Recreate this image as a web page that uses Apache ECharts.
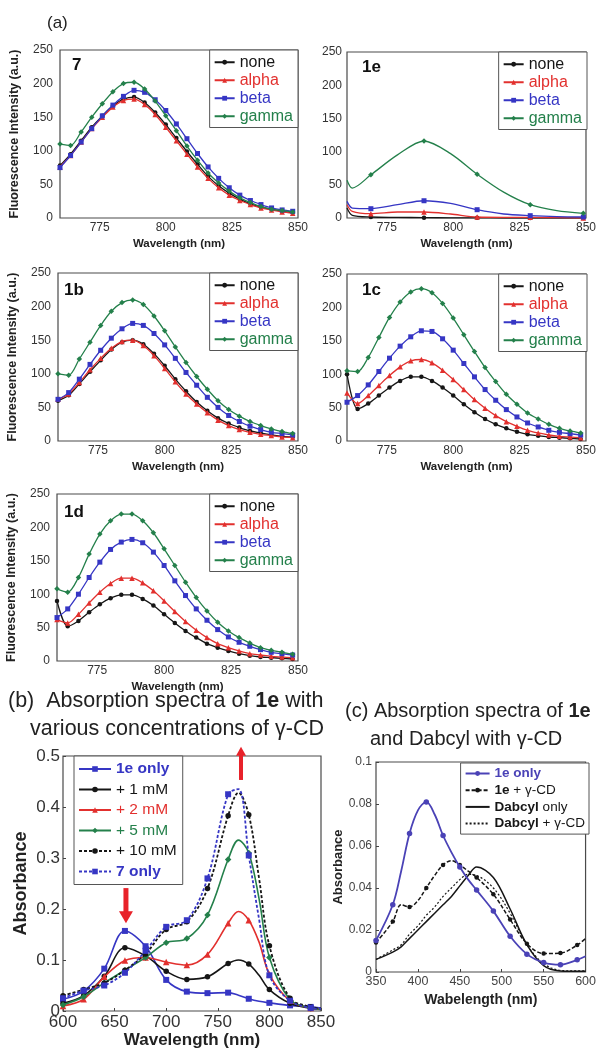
<!DOCTYPE html>
<html>
<head>
<meta charset="utf-8">
<style>
    body { margin: 0; background: #fff; }
    #page { position: relative; width: 599px; height: 1054px; }
    .pane { position: absolute; left: 0; top: 0; width: 599px; height: 1054px; }
</style>
</head>
<body>
<div id="page">
    <div class="pane" id="a7"></div>
    <div class="pane" id="a1e"></div>
    <div class="pane" id="a1b"></div>
    <div class="pane" id="a1c"></div>
    <div class="pane" id="a1d"></div>
    <div class="pane" id="pb"></div>
    <div class="pane" id="pc"></div>
</div>
<script src="https://cdn.jsdelivr.net/npm/echarts/dist/echarts.min.js"></script>
<script>
var FONT = '"Liberation Sans", Arial, sans-serif';
var INK = '#222';

// ---------- (a) fluorescence spectra ----------
var wlA = [760, 764, 768, 772, 776, 780, 784, 788, 792, 796, 800, 804, 808, 812, 816, 820, 824, 828, 832, 836, 840, 844, 848];
var wlTicks = [775, 800, 825, 850];
var cdNames = ['none', 'alpha', 'beta', 'gamma'];

var p7None  = [78, 95, 115, 135, 152, 167, 177, 180, 172, 157, 139, 119, 99, 80, 62, 48, 37, 28, 21, 16, 13, 10, 8];
var p7Alpha = [76, 93, 113, 133, 150, 165, 175, 177, 169, 154, 135, 115, 95, 76, 59, 45, 34, 26, 20, 15, 12, 9, 7];
var p7Beta  = [75, 93, 113, 133, 152, 168, 181, 190, 187, 176, 160, 140, 118, 96, 76, 59, 45, 34, 26, 20, 15, 12, 10];
var p7Gamma = [110, 108, 128, 150, 170, 188, 200, 202, 192, 174, 152, 130, 107, 86, 67, 52, 40, 30, 23, 17, 13, 11, 9];

var p1bNone  = [60, 68, 85, 103, 120, 136, 147, 150, 144, 130, 112, 92, 74, 58, 45, 34, 26, 20, 15, 12, 9, 7, 6];
var p1bAlpha = [62, 70, 87, 106, 123, 138, 148, 150, 142, 127, 108, 88, 70, 55, 42, 31, 23, 17, 13, 10, 8, 6, 5];
var p1bBeta  = [62, 72, 92, 114, 135, 153, 167, 175, 172, 160, 143, 123, 102, 83, 65, 50, 38, 29, 22, 17, 13, 11, 9];
var p1bGamma = [100, 98, 122, 147, 172, 193, 206, 210, 203, 186, 164, 140, 117, 96, 77, 60, 47, 37, 29, 23, 18, 14, 11];

var p1cNone  = [100, 48, 56, 68, 80, 90, 96, 96, 90, 80, 68, 55, 43, 33, 25, 19, 14, 10, 8, 6, 5, 4, 3];
var p1cAlpha = [72, 56, 68, 83, 98, 111, 120, 122, 117, 106, 92, 77, 62, 49, 38, 29, 22, 16, 12, 9, 7, 6, 5];
var p1cBeta  = [58, 68, 84, 104, 124, 142, 156, 165, 164, 153, 136, 116, 96, 77, 61, 47, 36, 27, 21, 16, 13, 11, 9];
var p1cGamma = [105, 104, 125, 155, 185, 208, 223, 228, 222, 206, 184, 159, 134, 110, 89, 70, 55, 42, 33, 25, 19, 15, 12];

var p1dNone  = [90, 52, 60, 73, 85, 94, 99, 99, 93, 83, 70, 57, 45, 35, 26, 20, 15, 11, 8, 6, 5, 4, 3];
var p1dAlpha = [62, 57, 70, 87, 103, 116, 124, 124, 117, 105, 90, 74, 59, 46, 35, 26, 20, 15, 11, 9, 7, 6, 5];
var p1dBeta  = [65, 78, 100, 125, 148, 167, 178, 182, 177, 163, 143, 120, 98, 78, 61, 47, 36, 28, 22, 17, 13, 11, 9];
var p1dGamma = [108, 103, 125, 160, 190, 210, 220, 220, 210, 192, 168, 143, 118, 95, 75, 58, 45, 35, 27, 20, 16, 13, 10];

// 1e was measured on a coarser grid (markers every 20 nm)
var wl1e = [760, 762, 769, 779, 789, 799, 809, 819, 829, 839, 849];
var p1eNone  = [15, 4, 1.5, 1, 0.5, 0.3, 0.2, 0, 0, 0, 0];
var p1eAlpha = [20, 10, 6.5, 9, 9, 6, 1.5, 1, 1, 0.5, 0];
var p1eBeta  = [25, 15, 14, 20, 26, 22, 12.5, 6, 3.5, 2, 1.5];
var p1eGamma = [57, 45, 65, 95, 116, 97, 66, 39, 20, 11, 7];

// ---------- (b) absorption of 1e with gamma-CD ----------
var wlB = [600, 620, 640, 660, 680, 700, 720, 740, 760, 770, 780, 790, 800, 820, 840, 850];
var bNames = ['1e only', '+ 1 mM', '+ 2 mM', '+ 5 mM', '+ 10 mM', '7 only'];
var b1eOnly = [0.023, 0.039, 0.083, 0.157, 0.127, 0.061, 0.038, 0.035, 0.036, 0.031, 0.024, 0.019, 0.016, 0.011, 0.008, 0.006];
var b1mM    = [0.015, 0.030, 0.068, 0.124, 0.108, 0.078, 0.062, 0.067, 0.093, 0.100, 0.092, 0.070, 0.042, 0.015, 0.005, 0.003];
var b2mM    = [0.010, 0.023, 0.067, 0.099, 0.105, 0.096, 0.090, 0.111, 0.172, 0.195, 0.178, 0.135, 0.072, 0.020, 0.006, 0.004];
var b5mM    = [0.012, 0.028, 0.055, 0.080, 0.105, 0.134, 0.142, 0.188, 0.297, 0.335, 0.310, 0.220, 0.105, 0.022, 0.006, 0.004];
var b10mM   = [0.030, 0.042, 0.055, 0.080, 0.112, 0.160, 0.175, 0.240, 0.383, 0.428, 0.385, 0.260, 0.128, 0.025, 0.008, 0.005];
var b7Only  = [0.025, 0.040, 0.050, 0.075, 0.118, 0.165, 0.178, 0.260, 0.425, 0.435, 0.305, 0.180, 0.070, 0.020, 0.006, 0.004];
// red arrows: [wavelength, from, to]
var arrowDown = [661, 0.241, 0.172];
var arrowUp = [772.5, 0.453, 0.518];

// ---------- (c) absorption of 1e and Dabcyl ----------
var wlC = [350, 370, 380, 390, 400, 410, 420, 430, 440, 450, 460, 470, 490, 510, 530, 550, 570, 590, 600];
var cNames = ['1e only', '1e + γ-CD', 'Dabcyl only', 'Dabcyl + γ-CD'];
var c1eOnly = [0.015, 0.032, 0.048, 0.066, 0.077, 0.081, 0.075, 0.065, 0.057, 0.050, 0.044, 0.039, 0.029, 0.017, 0.0085, 0.0045, 0.0035, 0.0058, 0.0075];
var c1eCD   = [0.014, 0.024, 0.032, 0.031, 0.034, 0.040, 0.046, 0.051, 0.053, 0.051, 0.048, 0.045, 0.037, 0.025, 0.0135, 0.0088, 0.009, 0.0128, 0.016];
var cDab    = [0.006, 0.0095, 0.012, 0.016, 0.020, 0.024, 0.028, 0.032, 0.036, 0.041, 0.046, 0.050, 0.045, 0.030, 0.013, 0.003, 0.0005, 0.0003, 0.0003];
var cDabCD  = [0.006, 0.0105, 0.013, 0.018, 0.022, 0.027, 0.031, 0.036, 0.040, 0.044, 0.0465, 0.046, 0.040, 0.028, 0.013, 0.004, 0.0008, 0.0005, 0.0005];

// styles
var BLACK = '#161616', RED = '#e2302e', BLUE = '#3636c4', GREEN = '#24804b', PURPLE = '#4a42b6', ARROW = '#e8222a';
var cdColors = [BLACK, RED, BLUE, GREEN];
var cdSymbols = ['circle', 'triangle', 'rect', 'diamond'];
var cdSizes = [4.5, 5.5, 5, 5.5];

function zip(xs, ys) {
    return xs.map(function (x, i) { return [x, ys[i]]; });
}

function gridOf(box) {
    return { left: box[0], top: box[1], width: box[2], height: box[3], show: true,
        borderColor: '#4a4a4a', borderWidth: 1.2, backgroundColor: 'transparent' };
}

function tagText(pos, text) {
    return { type: 'text', left: pos[0], top: pos[1], z: 10,
        style: { text: text, fontSize: 17, fontWeight: 'bold', fontFamily: FONT, fill: '#111' } };
}

// one fluorescence panel of (a)
function fluoPanel(id, box, tag, tagPos, xs, sets, withYName, markAt, extra) {
    var chart = echarts.init(document.getElementById(id));
    var series = sets.map(function (ys, i) {
        return {
            name: cdNames[i], type: 'line', data: zip(xs, ys), smooth: 0.3,
            symbol: cdSymbols[i],
            symbolSize: markAt ? function (v) { return markAt(v[0]) ? cdSizes[i] : 0; } : cdSizes[i],
            lineStyle: { color: cdColors[i], width: 1.3 },
            itemStyle: { color: cdColors[i], borderWidth: 0 },
            silent: true, z: 2 + i
        };
    });
    var graphics = [tagText(tagPos, tag)].concat(extra || []);
    chart.setOption({
        animation: false,
        textStyle: { fontFamily: FONT },
        grid: gridOf(box),
        xAxis: {
            type: 'value', min: 760, max: 850,
            name: 'Wavelength (nm)', nameLocation: 'middle', nameGap: 20,
            nameTextStyle: { fontFamily: FONT, fontWeight: 'bold', fontSize: 11.5, color: INK },
            axisLine: { show: false }, axisTick: { show: false }, splitLine: { show: false },
            axisLabel: { customValues: wlTicks, fontSize: 12, color: '#333', margin: 4 }
        },
        yAxis: {
            type: 'value', min: 0, max: 250, interval: 50,
            name: withYName ? 'Fluorescence Intensity (a.u.)' : '', nameLocation: 'middle', nameGap: 39,
            nameTextStyle: { fontFamily: FONT, fontWeight: 'bold', fontSize: 12.5, color: INK },
            axisLine: { show: false }, axisTick: { show: false }, splitLine: { show: false },
            axisLabel: { fontSize: 12, color: '#333', margin: withYName ? 7 : 5 }
        },
        legend: {
            orient: 'vertical', right: 599 - box[0] - box[2], top: box[1],
            itemWidth: 20, itemHeight: 6, itemGap: 1.5, padding: [4, 5, 3, 4],
            backgroundColor: '#fff', borderColor: '#555', borderWidth: 1,
            textStyle: { fontFamily: FONT, fontSize: 16, lineHeight: 16.5 },
            data: cdNames.map(function (n, i) { return { name: n, textStyle: { color: cdColors[i] } }; })
        },
        graphic: graphics,
        series: series
    });
    return chart;
}

fluoPanel('a7', [60, 50, 238, 168], '7', [72, 57], wlA, [p7None, p7Alpha, p7Beta, p7Gamma], true, null,
    [{ type: 'text', left: 47, top: 15, style: { text: '(a)', fontSize: 17, fontFamily: FONT, fill: INK } }]);
fluoPanel('a1e', [347, 52, 240, 166], '1e', [362, 59], wl1e, [p1eNone, p1eAlpha, p1eBeta, p1eGamma], false,
    function (x) { return x >= 769 && (x - 769) % 20 === 0; });
fluoPanel('a1b', [58, 273, 240, 168], '1b', [64, 282], wlA, [p1bNone, p1bAlpha, p1bBeta, p1bGamma], true);
fluoPanel('a1c', [347, 274, 240, 167], '1c', [362, 282], wlA, [p1cNone, p1cAlpha, p1cBeta, p1cGamma], false);
fluoPanel('a1d', [57, 494, 241, 167], '1d', [64, 504], wlA, [p1dNone, p1dAlpha, p1dBeta, p1dGamma], true);

// ---------- panel (b) ----------
function arrowShapes(chart, a, shaft, headW, headL) {
    var p0 = chart.convertToPixel({ gridIndex: 0 }, [a[0], a[1]]);
    var p1 = chart.convertToPixel({ gridIndex: 0 }, [a[0], a[2]]);
    var dir = p1[1] > p0[1] ? 1 : -1;
    var baseY = p1[1] - dir * headL;
    return [
        { type: 'line', z: 20, shape: { x1: p0[0], y1: p0[1], x2: p1[0], y2: baseY + dir },
            style: { stroke: ARROW, lineWidth: shaft } },
        { type: 'polygon', z: 20, shape: { points: [[p1[0] - headW / 2, baseY], [p1[0] + headW / 2, baseY], [p1[0], p1[1]]] },
            style: { fill: ARROW } }
    ];
}

var boxB = [63, 756, 258, 255];
var bSets = [b1eOnly, b1mM, b2mM, b5mM, b10mM, b7Only];
var bColors = [BLUE, BLACK, RED, GREEN, BLACK, BLUE];
var bSymbols = ['rect', 'circle', 'triangle', 'diamond', 'circle', 'rect'];
var bSizes = [6, 5.5, 6.5, 6.5, 5.5, 6];
var bDashed = [false, false, false, false, true, true];

var chartB = echarts.init(document.getElementById('pb'));
chartB.setOption({
    animation: false,
    textStyle: { fontFamily: FONT },
    grid: gridOf(boxB),
    xAxis: {
        type: 'value', min: 600, max: 850, interval: 50,
        name: 'Wavelength (nm)', nameLocation: 'middle', nameGap: 21,
        nameTextStyle: { fontFamily: FONT, fontWeight: 'bold', fontSize: 17, color: INK },
        axisLine: { show: false }, splitLine: { show: false },
        axisTick: { show: true, inside: true, length: 3, lineStyle: { color: '#444' } },
        axisLabel: { fontSize: 17, color: '#333', margin: 3 }
    },
    yAxis: {
        type: 'value', min: 0, max: 0.5, interval: 0.1,
        name: 'Absorbance', nameLocation: 'middle', nameGap: 33,
        nameTextStyle: { fontFamily: FONT, fontWeight: 'bold', fontSize: 18, color: INK },
        axisLine: { show: false }, splitLine: { show: false },
        axisTick: { show: true, inside: true, length: 3, lineStyle: { color: '#444' } },
        axisLabel: { fontSize: 17, color: '#333', margin: 3 }
    },
    legend: {
        orient: 'vertical', left: 74, top: boxB[1],
        itemWidth: 32, itemHeight: 7, itemGap: 2.5, padding: [4, 6, 4, 4],
        backgroundColor: '#fff', borderColor: '#555', borderWidth: 1,
        textStyle: {
            fontFamily: FONT, fontSize: 15.5, lineHeight: 18,
            rich: { bb: { fontFamily: FONT, fontSize: 15.5, fontWeight: 'bold', color: BLUE, lineHeight: 18 } }
        },
        formatter: function (n) { return (n === '1e only' || n === '7 only') ? '{bb|' + n + '}' : n; },
        data: bNames.map(function (n, i) { return { name: n, textStyle: { color: bColors[i] } }; })
    },
    series: bSets.map(function (ys, i) {
        return {
            name: bNames[i], type: 'line', data: zip(wlB, ys), smooth: 0.35,
            symbol: bSymbols[i],
            symbolSize: function (v) { return v[0] % 20 === 0 && v[0] < 850 ? bSizes[i] : 0; },
            lineStyle: { color: bColors[i], width: bDashed[i] ? 1.8 : 1.6, type: bDashed[i] ? [3, 2] : 'solid' },
            itemStyle: { color: bColors[i], borderWidth: 0 },
            silent: true, z: 2 + i
        };
    })
});
chartB.setOption({
    graphic: [
        { type: 'text', left: 8, top: 690, style: { text: '(b)  Absorption spectra of {b|1e} with',
            fontSize: 21.5, fontFamily: FONT, fill: INK,
            rich: { b: { fontSize: 21.5, fontFamily: FONT, fontWeight: 'bold', fill: INK } } } },
        { type: 'text', left: 30, top: 718, style: { text: 'various concentrations of γ-CD',
            fontSize: 21.5, fontFamily: FONT, fill: INK } }
    ].concat(arrowShapes(chartB, arrowDown, 5, 14, 12), arrowShapes(chartB, arrowUp, 4, 10, 9))
});

// ---------- panel (c) ----------
var boxC = [376, 762, 215, 210];
var cSets = [c1eOnly, c1eCD, cDab, cDabCD];
var cColors = [PURPLE, BLACK, BLACK, BLACK];
var cSymbols = ['circle', 'circle', 'none', 'none'];
var cSizes = [5.5, 4.5, 0, 0];
var cTypes = ['solid', [4, 2], 'solid', [2, 2]];
var cWidths = [1.8, 1.5, 1.5, 1.2];

var chartC = echarts.init(document.getElementById('pc'));
chartC.setOption({
    animation: false,
    textStyle: { fontFamily: FONT },
    grid: gridOf(boxC),
    xAxis: {
        type: 'value', min: 350, max: 600, interval: 50,
        name: 'Wabelength (nm)', nameLocation: 'middle', nameGap: 21,
        nameTextStyle: { fontFamily: FONT, fontWeight: 'bold', fontSize: 14, color: INK },
        axisLine: { show: false }, splitLine: { show: false },
        axisTick: { show: true, inside: true, length: 3, lineStyle: { color: '#444' } },
        axisLabel: { fontSize: 12.5, color: '#444', margin: 3 }
    },
    yAxis: {
        type: 'value', min: 0, max: 0.1, interval: 0.02,
        name: 'Absorbance', nameLocation: 'middle', nameGap: 30,
        nameTextStyle: { fontFamily: FONT, fontWeight: 'bold', fontSize: 13, color: INK },
        axisLine: { show: false }, splitLine: { show: false },
        axisTick: { show: true, inside: true, length: 3, lineStyle: { color: '#444' } },
        axisLabel: { fontSize: 12, color: '#444', margin: 4 }
    },
    legend: {
        orient: 'vertical', right: 599 - 589, top: boxC[1] + 1,
        itemWidth: 24, itemHeight: 6, itemGap: 1.7, padding: [3, 4, 3, 4],
        backgroundColor: '#fff', borderColor: '#555', borderWidth: 1,
        textStyle: {
            fontFamily: FONT, fontSize: 13.5, lineHeight: 15,
            rich: {
                bp: { fontFamily: FONT, fontSize: 13.5, fontWeight: 'bold', color: PURPLE, lineHeight: 15 },
                bk: { fontFamily: FONT, fontSize: 13.5, fontWeight: 'bold', color: BLACK, lineHeight: 15 },
                rk: { fontFamily: FONT, fontSize: 13.5, color: BLACK, lineHeight: 15 }
            }
        },
        formatter: function (n) {
            if (n === '1e only') return '{bp|1e only}';
            var cut = n.indexOf(' ');
            return '{bk|' + n.slice(0, cut) + '}{rk|' + n.slice(cut) + '}';
        },
        // plain Dabcyl curves have no markers, so hide the legend dot for them
        data: cNames.map(function (n, i) {
            var item = { name: n, textStyle: { color: cColors[i] } };
            if (cSymbols[i] === 'none') item.itemStyle = { color: 'rgba(0,0,0,0)', borderWidth: 0 };
            return item;
        })
    },
    graphic: [
        { type: 'text', left: 345, top: 701, style: { text: '(c) Absorption spectra of {b|1e}',
            fontSize: 20, fontFamily: FONT, fill: INK,
            rich: { b: { fontSize: 20, fontFamily: FONT, fontWeight: 'bold', fill: INK } } } },
        { type: 'text', left: 370, top: 729, style: { text: 'and Dabcyl with γ-CD',
            fontSize: 20, fontFamily: FONT, fill: INK } }
    ],
    series: cSets.map(function (ys, i) {
        return {
            name: cNames[i], type: 'line', data: zip(wlC, ys), smooth: 0.35,
            symbol: cSymbols[i],
            symbolSize: function (v) { return (v[0] - 350) % 20 === 0 ? cSizes[i] : 0; },
            lineStyle: { color: cColors[i], width: cWidths[i], type: cTypes[i] },
            itemStyle: { color: cColors[i], borderWidth: 0 },
            silent: true, z: 6 - i
        };
    })
});
</script>
</body>
</html>
